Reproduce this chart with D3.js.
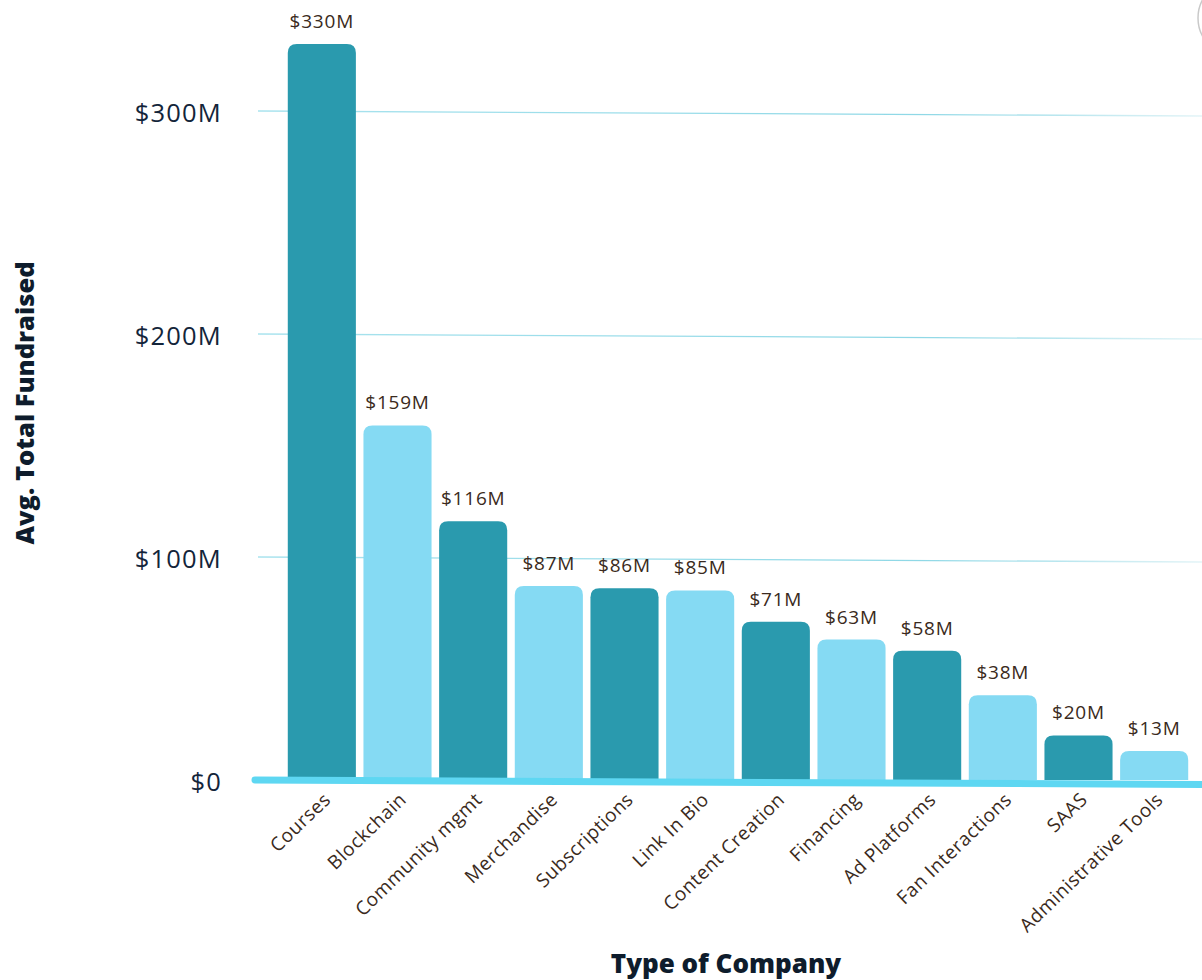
<!DOCTYPE html>
<html>
<head>
<meta charset="utf-8">
<script src="https://cdn.jsdelivr.net/npm/d3@7"></script>
<style>
  body { margin: 0; background: #ffffff; }
  svg { display: block; }
</style>
</head>
<body>
<svg id="chart" width="1202" height="980"></svg>
<script>
// Average total fundraised by type of company (millions of USD)
const categories = [
  "Courses", "Blockchain", "Community mgmt", "Merchandise", "Subscriptions",
  "Link In Bio", "Content Creation", "Financing", "Ad Platforms",
  "Fan Interactions", "SAAS", "Administrative Tools"
];
const values = [330, 159, 116, 87, 86, 85, 71, 63, 58, 38, 20, 13];
const valueLabels = ["$330M", "$159M", "$116M", "$87M", "$86M", "$85M",
                     "$71M", "$63M", "$58M", "$38M", "$20M", "$13M"];
const yTicks = [0, 100, 200, 300];
const yTickLabels = ["$0", "$100M", "$200M", "$300M"];

const W = 1202, H = 980;
const svg = d3.select("#chart");
const FONT = "'Open Sans', 'Noto Sans', sans-serif";

const DARK = "#2a9aae";
const LIGHT = "#85daf3";
const BASE = "#5ed7f2";

const x = d3.scaleBand()
  .domain(categories)
  .range([284, 1192])
  .paddingInner(0.1)
  .paddingOuter(0.05);

const y = d3.scaleLinear()
  .domain([0, 300])
  .range([780, 111]);

// gridlines drift slightly downward to the right
const tilt = 5;
const defs = svg.append("defs");
const grad = defs.append("linearGradient")
  .attr("id", "gridFade")
  .attr("gradientUnits", "userSpaceOnUse")
  .attr("x1", 258).attr("x2", W).attr("y1", 0).attr("y2", 0);
grad.append("stop").attr("offset", "0%").attr("stop-color", "#a9e3ee");
grad.append("stop").attr("offset", "70%").attr("stop-color", "#8fd8e6");
grad.append("stop").attr("offset", "100%").attr("stop-color", "#e3f4f7");

svg.append("g").selectAll("line")
  .data(yTicks.filter(d => d > 0))
  .join("line")
  .attr("x1", 258).attr("x2", W)
  .attr("y1", d => y(d))
  .attr("y2", d => y(d) + tilt)
  .attr("stroke", "url(#gridFade)")
  .attr("stroke-width", 1.3);

// y tick labels
svg.append("g").selectAll("text")
  .data(yTicks)
  .join("text")
  .attr("x", 222)
  .attr("y", d => y(d))
  .attr("dy", "0.45em")
  .attr("text-anchor", "end")
  .attr("font-family", FONT)
  .attr("font-size", 25.5)
  .attr("letter-spacing", 1.2)
  .attr("fill", "#13253a")
  .text((d, i) => yTickLabels[i]);

// bars with rounded tops
const r = 9;
function topRounded(x0, y0, w, h) {
  const rr = Math.min(r, h, w / 2);
  return `M${x0},${y0 + h}V${y0 + rr}Q${x0},${y0} ${x0 + rr},${y0}` +
         `H${x0 + w - rr}Q${x0 + w},${y0} ${x0 + w},${y0 + rr}V${y0 + h}Z`;
}
svg.append("g").selectAll("path")
  .data(values)
  .join("path")
  .attr("d", (d, i) => topRounded(x(categories[i]), y(d), x.bandwidth(), y(0) - y(d)))
  .attr("fill", (d, i) => i % 2 === 0 ? DARK : LIGHT);

// value labels
svg.append("g").selectAll("text")
  .data(values)
  .join("text")
  .attr("x", (d, i) => x(categories[i]) + x.bandwidth() / 2)
  .attr("y", d => y(d) - 16)
  .attr("text-anchor", "middle")
  .attr("font-family", FONT)
  .attr("font-size", 19)
  .attr("letter-spacing", 0.8)
  .attr("fill", "#3a2a20")
  .text((d, i) => valueLabels[i]);

// baseline
svg.append("line")
  .attr("x1", 255).attr("x2", W + 10)
  .attr("y1", y(0)).attr("y2", y(0) + 4.5)
  .attr("stroke", BASE)
  .attr("stroke-width", 7)
  .attr("stroke-linecap", "round");

// category labels
svg.append("g").selectAll("text")
  .data(categories)
  .join("text")
  .attr("transform", d => `translate(${x(d) + x.bandwidth() / 2 + 10},${y(0) + 21}) rotate(-44)`)
  .attr("text-anchor", "end")
  .attr("font-family", FONT)
  .attr("font-size", 19)
  .attr("letter-spacing", 0.5)
  .attr("fill", "#3a2a20")
  .text(d => d);

// axis titles
svg.append("text")
  .attr("transform", "translate(34,403) rotate(-90)")
  .attr("text-anchor", "middle")
  .attr("font-family", FONT)
  .attr("font-weight", 800)
  .attr("font-size", 25.5)
  .attr("fill", "#0e1c2c")
  .text("Avg. Total Fundraised");

svg.append("text")
  .attr("x", 726).attr("y", 973)
  .attr("text-anchor", "middle")
  .attr("font-family", FONT)
  .attr("font-weight", 800)
  .attr("font-size", 26)
  .attr("fill", "#0e1c2c")
  .text("Type of Company");

// partial round badge at the top-right edge
svg.append("circle")
  .attr("cx", 1236).attr("cy", 18).attr("r", 38)
  .attr("fill", "#ffffff")
  .attr("stroke", "#c9c9c9")
  .attr("stroke-width", 1.5);
</script>
</body>
</html>
